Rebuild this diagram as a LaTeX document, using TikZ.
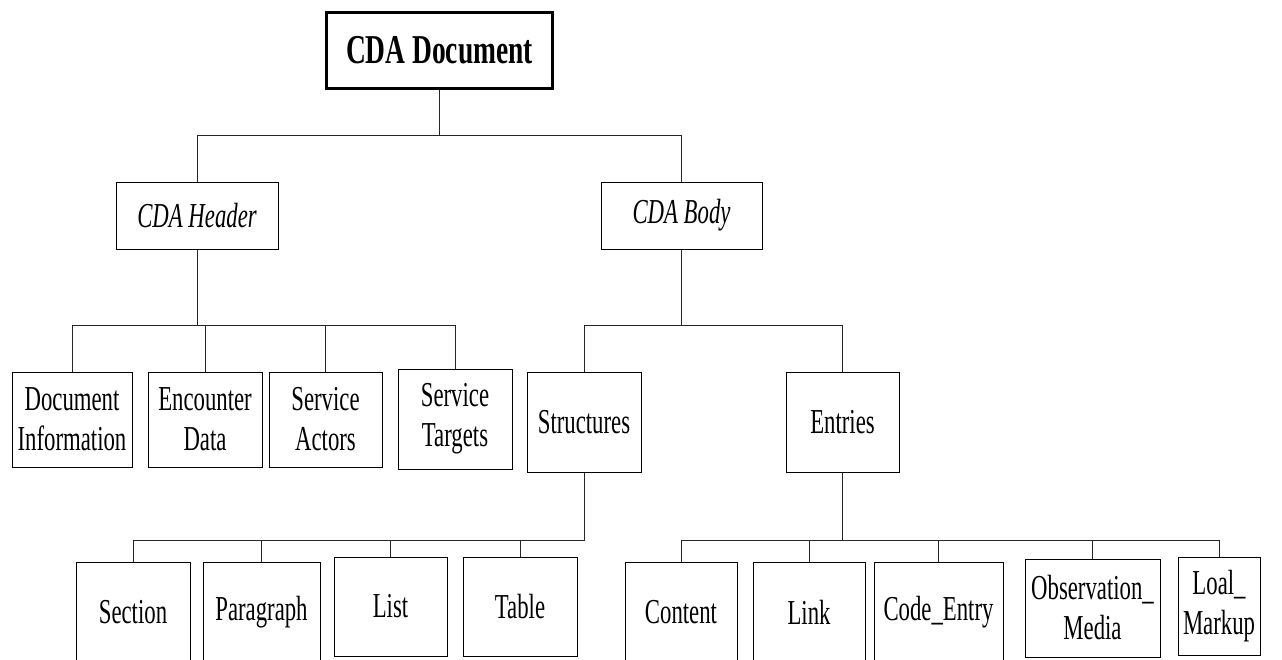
\documentclass[tikz,border=0pt]{standalone}
\usepackage{fontspec}
\setmainfont{Liberation Serif}[FakeStretch=0.65]
\newfontfamily\titlefont{Liberation Serif}[FakeStretch=0.67]
\begin{document}
\begin{tikzpicture}[x=1pt,y=-1pt,
  box/.style={draw=black, line width=1pt, inner sep=0pt, align=center,
    font=\fontsize{35}{40}\selectfont},
  ibox/.style={box, font=\fontsize{35}{40}\selectfont\itshape},
  tbox/.style={draw=black, line width=3pt, inner sep=0pt,
    font=\fontsize{41}{44}\selectfont\titlefont\bfseries},
  conn/.style={draw=black!85, line width=1pt}
]
\useasboundingbox[fill=white] (0,0) rectangle (1282,659);

% bus levels
\coordinate (b1) at (0,135);
\coordinate (b2) at (0,325);
\coordinate (b3) at (0,540);

% level 0
\node[tbox, minimum width=226, minimum height=76] (doc) at (439.5,50) {CDA Document};

% level 1
\node[ibox, minimum width=162, minimum height=67] (hdr) at (197,215.5) {CDA Header};
\node[ibox, minimum width=161, minimum height=67] (body) at (681.5,215.5) {CDA Body};

% level 2 (header)
\node[box, minimum width=120, minimum height=95] (docinfo) at (72,419.5) {Document\\Information};
\node[box, minimum width=114, minimum height=95] (enc) at (205,419.5) {Encounter\\Data};
\node[box, minimum width=113, minimum height=95] (actors) at (325.5,419.5) {Service\\Actors};
\node[box, minimum width=114, minimum height=100] (targets) at (455,419) {Service\\Targets};

% level 2 (body)
\node[box, minimum width=114, minimum height=100] (struct) at (584,422) {Structures};
\node[box, minimum width=113, minimum height=100] (entries) at (842.5,422) {Entries};

% level 3 (structures)
\node[box, minimum width=114, minimum height=100] (section) at (133,612) {Section};
\node[box, minimum width=117, minimum height=100] (para) at (261.5,612) {Paragraph};
\node[box, minimum width=113, minimum height=99] (list) at (390.5,606.5) {List};
\node[box, minimum width=114, minimum height=99] (table) at (520,606.5) {Table};

% level 3 (entries)
\node[box, minimum width=112, minimum height=100] (content) at (681,612) {Content};
\node[box, minimum width=112, minimum height=100] (link) at (809,612) {Link};
\node[box, minimum width=129, minimum height=100] (code) at (938.5,612) {Code\_Entry};
\node[box, minimum width=135, minimum height=98] (obs) at (1092.5,608) {Observation\_\\Media};
\node[box, minimum width=82, minimum height=98] (loal) at (1219,606) {Loal\_\\Markup};

% connectors
\foreach \c in {hdr,body}
  \draw[conn] (doc.south) -- (doc.south |- b1) -| (\c.north);
\foreach \c in {docinfo,enc,actors,targets}
  \draw[conn] (hdr.south) -- (hdr.south |- b2) -| (\c.north);
\foreach \c in {struct,entries}
  \draw[conn] (body.south) -- (body.south |- b2) -| (\c.north);
\foreach \c in {section,para,list,table}
  \draw[conn] (struct.south) -- (struct.south |- b3) -| (\c.north);
\foreach \c in {content,link,code,obs,loal}
  \draw[conn] (entries.south) -- (entries.south |- b3) -| (\c.north);
\end{tikzpicture}
\end{document}
